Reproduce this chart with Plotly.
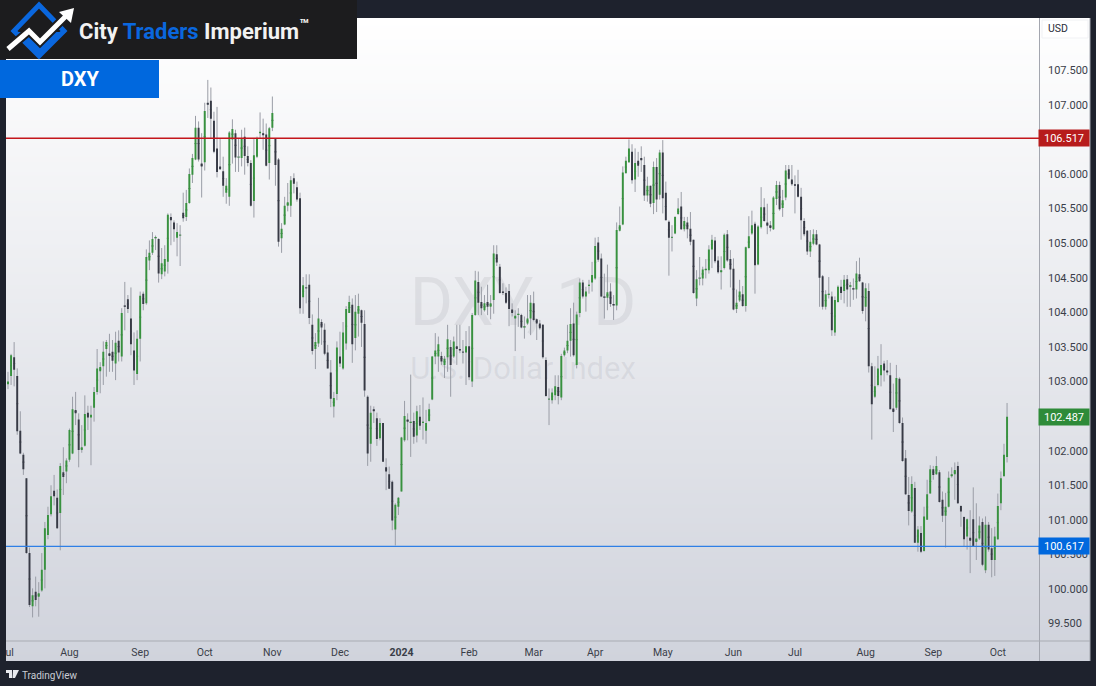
import plotly.graph_objs as go

W = 1096
H = 686

# daily DXY candles
opens = [102.96,103.08,103.35,103.08,102.29,101.94,101.60,100.52,99.75,99.96,
    99.89,99.98,100.28,100.78,101.08,101.42,101.32,101.10,101.69,101.70,
    101.87,101.96,102.59,102.45,102.01,102.07,102.55,102.48,102.62,102.85,
    103.15,103.22,103.47,103.41,103.43,103.26,103.59,103.36,104.10,104.19,
    103.91,103.45,103.11,103.62,104.27,104.13,104.75,104.86,105.07,105.06,
    104.55,104.59,104.73,105.38,105.30,105.08,105.11,105.44,105.38,105.58,
    105.99,106.21,106.67,106.15,106.17,107.03,107.06,106.77,106.37,106.11,
    106.04,105.73,105.67,106.50,106.59,106.24,106.23,106.54,106.26,106.16,
    105.61,106.25,106.59,106.59,106.57,106.16,106.67,106.51,106.21,105.07,
    105.27,105.54,105.54,105.94,105.81,105.65,104.22,104.36,104.40,103.82,
    103.47,103.55,103.86,103.75,103.42,103.13,102.64,102.82,103.36,103.19,
    103.55,103.99,104.11,103.63,103.98,104.03,103.83,102.78,102.10,102.60,
    102.47,102.18,102.40,101.76,101.66,101.55,100.86,101.19,101.41,102.15,
    102.45,102.40,102.43,102.22,102.49,102.40,102.29,102.43,102.74,103.36,
    103.36,103.37,103.24,103.35,103.50,103.36,103.51,103.47,103.43,103.42,
    103.51,103.00,103.96,104.44,104.15,104.03,104.15,104.08,104.18,104.84,
    104.66,104.30,104.28,104.31,104.04,103.91,103.96,103.96,103.78,103.84,
    103.91,104.13,103.90,103.84,103.82,103.31,102.74,102.73,102.80,102.92,
    102.77,103.38,103.45,103.59,103.84,103.24,103.99,104.43,104.23,104.38,
    104.43,104.49,105.01,104.78,104.23,104.21,104.30,104.12,104.10,105.18,
    105.27,106.01,106.17,106.32,105.92,106.19,106.23,106.13,105.69,105.83,
    105.58,106.10,105.70,106.31,105.73,105.31,105.08,105.14,105.42,105.53,
    105.20,105.30,105.21,105.05,104.20,104.49,104.49,104.61,104.61,104.91,
    105.04,104.75,104.58,104.64,105.13,104.77,104.63,104.05,104.17,104.26,
    104.09,104.93,105.14,105.28,104.69,105.23,105.52,105.30,105.26,105.20,
    105.64,105.84,105.51,105.66,106.07,105.92,105.85,105.85,105.67,105.32,
    105.18,104.88,104.99,105.13,104.98,104.52,104.08,104.25,104.23,103.71,
    104.15,104.37,104.31,104.48,104.37,104.35,104.33,104.55,104.43,104.08,
    104.31,103.22,102.78,102.95,103.09,103.26,103.16,103.09,102.61,102.62,
    103.04,102.40,101.89,101.36,101.12,101.46,100.67,100.81,100.55,101.00,
    101.38,101.73,101.66,101.69,101.29,101.06,101.19,101.63,101.66,101.78,
    101.20,101.04,100.76,100.74,101.01,100.68,100.73,100.97,100.27,100.93,
    100.59,100.42,100.72,101.24,101.63,101.91]
highs = [103.14,103.40,103.57,103.19,102.57,101.97,101.60,100.60,100.01,100.18,
    100.10,100.52,100.97,101.19,101.50,101.65,101.44,101.82,102.05,101.89,
    102.32,102.78,102.85,102.54,102.37,102.80,102.65,102.65,102.92,103.47,
    103.28,103.58,103.60,103.69,103.60,103.72,103.74,104.06,104.44,104.25,
    104.36,103.71,103.74,104.30,104.30,104.91,105.04,105.16,105.11,105.07,
    104.93,104.97,105.43,105.43,105.33,105.29,105.26,105.73,105.77,106.08,
    106.29,106.84,106.76,106.59,107.03,107.36,107.25,106.90,106.97,106.52,
    106.25,105.94,106.62,106.79,106.64,106.52,106.64,106.67,106.40,106.20,
    106.52,106.54,106.89,106.80,106.73,106.68,107.12,106.52,106.23,105.29,
    105.67,105.87,105.97,106.01,105.89,105.73,104.51,104.55,104.55,103.97,
    103.70,104.21,103.90,103.84,103.53,103.31,102.85,103.58,103.72,103.86,
    104.09,104.24,104.20,104.25,104.27,104.04,104.03,102.80,102.65,102.64,
    102.55,102.47,102.40,101.89,101.77,101.57,101.24,101.33,102.20,102.72,
    102.54,103.10,102.55,102.65,102.66,102.77,102.59,102.68,103.37,103.70,
    103.65,103.43,103.37,103.82,103.60,103.65,103.82,103.82,103.60,103.73,
    103.80,103.99,104.60,104.59,104.37,104.25,104.40,104.25,104.97,104.97,
    104.70,104.42,104.36,104.41,104.13,104.03,104.06,103.98,103.94,104.25,
    104.25,104.30,103.91,103.89,103.83,103.35,102.90,102.90,103.09,103.09,
    103.40,103.49,103.82,104.06,104.14,104.01,104.49,104.47,104.37,104.47,
    104.73,105.08,105.09,104.85,104.56,104.69,104.42,104.25,105.30,105.53,
    106.11,106.25,106.50,106.43,106.37,106.32,106.40,106.25,105.96,105.83,
    106.18,106.23,106.35,106.49,105.89,105.33,105.26,105.39,105.65,105.74,
    105.38,105.38,105.45,105.05,104.61,104.80,104.66,104.77,104.97,105.12,
    105.09,104.81,104.81,105.14,105.19,104.90,104.78,104.33,104.47,104.38,
    104.95,105.39,105.47,105.31,105.26,105.81,105.65,105.57,105.32,105.68,
    105.90,105.89,105.77,106.13,106.13,106.13,105.98,106.06,105.80,105.36,
    105.19,105.19,105.20,105.19,104.99,104.54,104.32,104.51,104.30,104.23,
    104.39,104.47,104.54,104.54,104.44,104.49,104.74,104.79,104.44,104.42,
    104.42,103.27,103.22,103.37,103.54,103.30,103.31,103.27,102.97,103.24,
    103.06,102.48,102.01,101.62,101.63,101.55,100.91,100.91,101.19,101.58,
    101.79,101.78,101.92,101.72,101.41,101.39,101.70,101.76,101.83,101.84,
    101.21,101.05,101.02,101.14,101.47,101.24,101.05,101.02,101.05,100.97,
    100.88,100.90,101.38,101.70,102.10,102.69]
lows = [102.89,102.95,102.93,102.23,101.95,101.65,100.51,99.74,99.59,99.75,
    99.60,99.96,100.01,100.72,101.05,101.21,100.87,100.56,101.36,101.53,
    101.84,101.95,102.37,101.76,101.97,102.06,102.30,101.79,102.42,102.81,
    102.83,102.95,103.07,103.14,103.14,103.02,103.29,103.29,103.74,103.99,
    103.38,102.95,103.02,103.29,104.03,104.11,104.61,104.83,104.90,104.43,
    104.48,104.52,104.56,104.97,105.02,104.81,104.67,105.31,105.32,105.57,
    105.87,106.20,106.18,105.66,106.05,106.81,106.52,106.30,105.95,106.06,
    105.67,105.57,105.54,106.15,106.03,106.03,106.11,105.99,106.11,105.53,
    105.37,106.23,106.52,106.35,106.11,105.92,106.62,105.83,104.95,104.86,
    105.26,105.46,105.38,105.72,105.60,103.98,103.98,104.13,103.83,103.39,
    103.18,103.50,103.53,103.38,103.19,102.63,102.48,102.73,103.21,103.17,
    103.46,103.99,103.27,103.45,103.65,103.50,102.78,101.78,101.84,102.40,
    102.07,102.15,101.84,101.43,101.45,100.85,100.63,101.07,101.41,102.13,
    102.15,101.91,102.10,102.12,102.30,102.16,102.10,102.42,102.73,103.25,
    103.14,103.24,103.05,103.14,102.78,103.34,103.24,103.41,103.26,102.95,
    103.02,102.92,103.95,103.96,103.96,104.01,103.96,103.90,103.98,104.67,
    104.27,104.25,104.12,103.80,103.94,103.44,103.79,103.77,103.62,103.82,
    103.67,103.87,103.60,103.75,103.33,102.78,102.37,102.68,102.73,102.67,
    102.73,103.36,103.41,103.36,103.36,103.19,103.93,104.20,104.01,104.27,
    104.30,104.47,104.73,104.22,103.91,104.03,104.08,103.89,104.03,105.17,
    105.26,106.01,106.16,105.86,105.74,105.96,106.03,105.61,105.60,105.52,
    105.42,105.45,105.63,105.43,105.33,104.53,104.88,105.13,105.41,105.19,
    105.17,105.07,104.97,104.27,104.09,104.39,104.39,104.49,104.56,104.64,
    104.71,104.56,104.33,104.62,104.73,104.36,104.03,103.99,104.15,104.08,
    104.01,104.92,105.12,104.27,104.68,105.21,105.31,105.13,105.17,105.19,
    105.55,105.47,105.38,105.62,105.92,105.83,105.43,105.66,105.05,105.10,
    104.83,104.80,104.97,104.97,104.08,104.04,104.04,104.20,103.66,103.66,
    104.14,104.18,104.13,104.08,104.08,104.18,104.20,104.44,103.98,103.87,
    103.13,102.16,102.76,102.93,102.93,103.00,103.09,102.60,102.27,102.59,
    102.39,101.84,101.36,100.92,101.10,100.67,100.54,100.52,100.54,101.00,
    101.38,101.58,101.65,101.25,100.97,100.60,101.18,101.61,101.29,101.23,
    100.90,100.61,100.57,100.23,100.61,100.42,100.71,100.33,100.23,100.54,
    100.17,100.19,100.71,101.14,101.63,101.83]
closes = [103.00,103.38,103.17,102.28,101.96,101.73,100.52,99.77,99.91,99.84,
    99.94,100.28,100.88,101.07,101.34,101.34,100.88,101.78,101.62,101.86,
    102.30,102.60,102.54,102.01,102.05,102.53,102.48,102.52,102.85,103.19,
    103.21,103.43,103.57,103.37,103.30,103.56,103.42,103.99,104.08,104.05,
    103.54,103.16,103.62,104.24,104.12,104.80,104.86,105.06,105.09,104.56,
    104.71,104.77,105.41,105.33,105.20,105.16,105.12,105.36,105.58,106.00,
    106.23,106.67,106.21,106.11,106.91,107.00,106.80,106.32,106.03,106.07,
    105.83,105.83,106.60,106.65,106.24,106.25,106.52,106.26,106.16,105.54,
    106.27,106.52,106.61,106.56,106.12,106.66,106.88,106.13,105.02,105.21,
    105.54,105.59,105.91,105.86,105.63,104.06,104.39,104.35,103.92,103.44,
    103.57,103.91,103.78,103.40,103.19,102.75,102.76,103.49,103.26,103.71,
    104.05,104.15,103.54,104.01,104.09,103.85,102.87,101.96,102.55,102.57,
    102.17,102.40,101.84,101.70,101.45,100.99,101.22,101.32,102.19,102.50,
    102.42,102.42,102.20,102.57,102.36,102.42,102.40,102.60,103.36,103.45,
    103.54,103.29,103.33,103.61,103.24,103.58,103.47,103.45,103.42,103.51,
    103.06,103.96,104.46,104.14,104.06,104.13,104.08,104.13,104.85,104.72,
    104.28,104.28,104.14,104.05,103.99,103.95,103.98,103.78,103.80,103.91,
    104.14,103.89,103.84,103.77,103.35,102.79,102.75,102.84,102.93,102.79,
    103.37,103.45,103.59,103.83,103.38,103.97,104.43,104.23,104.30,104.40,
    104.54,104.96,104.76,104.23,104.21,104.29,104.12,104.10,105.19,105.26,
    106.02,106.19,106.37,105.91,106.16,106.12,106.20,105.69,105.83,105.57,
    106.10,105.63,106.31,105.65,105.33,105.08,105.09,105.38,105.50,105.20,
    105.32,105.20,105.02,104.28,104.48,104.50,104.62,104.63,104.91,105.05,
    104.74,104.58,104.61,105.12,104.75,104.62,104.04,104.14,104.30,104.09,
    104.94,105.10,105.26,104.68,105.24,105.52,105.32,105.25,105.22,105.66,
    105.84,105.49,105.62,106.05,105.93,105.85,105.83,105.67,105.33,105.13,
    104.88,105.02,105.13,104.98,104.50,104.08,104.26,104.27,103.74,104.18,
    104.37,104.28,104.47,104.33,104.39,104.33,104.56,104.45,104.02,104.35,
    103.22,102.67,102.93,103.19,103.24,103.16,103.13,102.60,102.56,103.05,
    102.40,101.85,101.37,101.13,101.52,100.67,100.86,100.54,101.05,101.37,
    101.73,101.65,101.78,101.26,101.06,101.19,101.61,101.66,101.72,101.24,
    101.12,100.72,101.01,100.70,100.62,100.73,100.92,100.35,100.93,100.57,
    100.42,100.76,101.20,101.60,101.94,102.49]

# first label is cut by the left frame, as in the reference
month_ticks = [-0.4, 20, 43, 64, 86, 108, 128, 150, 171, 191, 213, 236, 256, 279, 301, 322]
month_labels = ["Jul", "Aug", "Sep", "Oct", "Nov", "Dec", "<b>2024</b>", "Feb", "Mar", "Apr",
                "May", "Jun", "Jul", "Aug", "Sep", "Oct"]
# 102.5 and 106.5 sit behind the price tags
price_ticks = [99.5, 100, 100.5, 101, 101.5, 102, 103, 103.5, 104, 104.5, 105, 105.5, 106, 107, 107.5]
resistance = 106.517
support = 100.617
last_price = 102.487

DARK = "#1e222d"
GREEN = "#38923f"
BEAR = "#373a45"
WICK = "#9a9da6"
BLUE = "#0a67de"
RED = "#b71c1c"
FONT = "Roboto"


def px(x):
    return x / W


def py(y):
    return 1 - y / H


def poly(points, close=True):
    d = "M" + " L".join(f"{px(a):.5f},{py(b):.5f}" for a, b in points)
    return d + (" Z" if close else "")


days = list(range(len(opens)))
fig = go.Figure()

# background gradient, sits under the candles on its own axes
fig.add_trace(go.Heatmap(x=[0, 1], y=[0, 1], z=[[0, 0], [1, 1]], zsmooth="best", showscale=False,
                         colorscale=[[0, "#d0d3dc"], [1, "#ffffff"]], hoverinfo="skip",
                         xaxis="x", yaxis="y"))
# watermark
fig.add_trace(go.Scatter(x=[0.477], y=[0.548], mode="text", text=["DXY, 1D"], hoverinfo="skip",
                         textfont=dict(family=FONT, size=66, color="rgba(120,123,134,0.13)"),
                         xaxis="x", yaxis="y"))
fig.add_trace(go.Scatter(x=[0.477], y=[0.451], mode="text", text=["U.S. Dollar Index"], hoverinfo="skip",
                         textfont=dict(family=FONT, size=31, color="rgba(120,123,134,0.13)"),
                         xaxis="x", yaxis="y"))

# wicks, with the flat body hidden inside the real one
body_mid = [(o + c) / 2 for o, c in zip(opens, closes)]
fig.add_trace(go.Candlestick(x=days, open=body_mid, high=highs, low=lows, close=body_mid,
                             increasing=dict(line=dict(color=WICK, width=1), fillcolor=WICK),
                             decreasing=dict(line=dict(color=WICK, width=1), fillcolor=WICK),
                             whiskerwidth=0, hoverinfo="skip", xaxis="x2", yaxis="y2"))
# bodies
body_high = [max(o, c) for o, c in zip(opens, closes)]
body_low = [min(o, c) for o, c in zip(opens, closes)]
fig.add_trace(go.Candlestick(x=days, open=opens, high=body_high, low=body_low, close=closes,
                             increasing=dict(line=dict(color=GREEN, width=0), fillcolor=GREEN),
                             decreasing=dict(line=dict(color=BEAR, width=0), fillcolor=BEAR),
                             whiskerwidth=0, hoverinfo="skip", xaxis="x2", yaxis="y2"))

shapes = [
    # level lines
    dict(type="line", xref="paper", yref="y2", x0=px(6), x1=px(1039), y0=resistance, y1=resistance,
         line=dict(color="#c4161c", width=1.3), layer="above"),
    dict(type="line", xref="paper", yref="y2", x0=px(6), x1=px(1039), y0=support, y1=support,
         line=dict(color="#2f7fe6", width=1.3), layer="above"),
    # frame
    dict(type="rect", xref="paper", yref="paper", x0=0, x1=px(6), y0=py(661), y1=1,
         fillcolor=DARK, line_width=0, layer="above"),
    dict(type="line", xref="paper", yref="paper", x0=px(1039.5), x1=px(1039.5), y0=py(661), y1=py(18),
         line=dict(color="#a3a6af", width=1), layer="above"),
    dict(type="line", xref="paper", yref="paper", x0=px(6), x1=px(1090), y0=py(641), y1=py(641),
         line=dict(color="#a9acb3", width=1), layer="above"),
    dict(type="line", xref="paper", yref="paper", x0=px(1090), x1=px(1090), y0=py(661), y1=py(18),
         line=dict(color="#a3a6af", width=1), layer="above"),
    # header
    dict(type="rect", xref="paper", yref="paper", x0=0, x1=px(357), y0=py(59), y1=1,
         fillcolor="#1c1c1e", line_width=0, layer="above"),
    dict(type="rect", xref="paper", yref="paper", x0=0, x1=px(159), y0=py(98), y1=py(60),
         fillcolor="#0068de", line_width=0, layer="above"),
    # logo diamond
    dict(type="path", xref="paper", yref="paper", path=poly([(39, 5), (64, 31), (39, 56), (14, 31)]),
         line=dict(color=BLUE, width=5), layer="above"),
    dict(type="path", xref="paper", yref="paper", path=poly([(12, 32), (28, 32), (39, 44), (50, 32), (66, 32), (39, 54)]),
         fillcolor=BLUE, line_width=0, layer="above"),
    # logo arrow
    dict(type="path", xref="paper", yref="paper", path=poly([(8, 49), (29, 31), (40, 42), (67, 15)], close=False),
         line=dict(color="#1c1c1e", width=9), layer="above"),
    dict(type="path", xref="paper", yref="paper", path=poly([(8, 49), (29, 31), (40, 42), (67, 15)], close=False),
         line=dict(color="#ffffff", width=5), layer="above"),
    dict(type="path", xref="paper", yref="paper", path=poly([(74, 8), (71, 23), (59, 12)]),
         fillcolor="#ffffff", line_width=0, layer="above"),
    # tradingview logo
    dict(type="path", xref="paper", yref="paper",
         path=poly([(6, 670), (12, 670), (12, 678), (9, 678), (9, 673), (6, 673)]),
         fillcolor="#e8e9ee", line_width=0, layer="above"),
    dict(type="path", xref="paper", yref="paper", path=poly([(13, 670), (19, 670), (15, 678), (12.5, 678)]),
         fillcolor="#e8e9ee", line_width=0, layer="above"),
    # USD box
    dict(type="rect", xref="paper", yref="paper", x0=px(1042), x1=px(1088), y0=py(38), y1=py(20),
         fillcolor="#ffffff", line=dict(color="#f0f1f4", width=1), layer="above"),
]

annotations = [
    dict(x=px(77), y=py(30), xref="paper", yref="paper", xanchor="left", yanchor="middle", showarrow=False,
         text="<b>City <span style='color:#0a67de'>Traders</span> Imperium<sup>™</sup></b>",
         font=dict(family=FONT, size=22, color="#f2f2f2")),
    dict(x=px(80), y=py(79), xref="paper", yref="paper", xanchor="center", yanchor="middle", showarrow=False,
         text="<b>DXY</b>", font=dict(family=FONT, size=20, color="#ffffff")),
    dict(x=px(20), y=py(675), xref="paper", yref="paper", xanchor="left", yanchor="middle", showarrow=False,
         text="TradingView", font=dict(family=FONT, size=10, color="#c9ccd4")),
    dict(x=px(1058), y=py(29), xref="paper", yref="paper", xanchor="center", yanchor="middle", showarrow=False,
         text="USD", font=dict(family=FONT, size=10.5, color="#2a2e39")),
]
for level, colour in [(resistance, RED), (support, "#0068de"), (last_price, "#2e8b39")]:
    annotations.append(dict(x=px(1064), y=level, xref="paper", yref="y2", xanchor="center", yanchor="middle",
                            showarrow=False, text=f"{level:.3f}", width=48, height=14, bgcolor=colour,
                            font=dict(family=FONT, size=11, color="#ffffff")))

fig.update_layout(
    width=W, height=H, autosize=False,
    margin=dict(l=0, r=0, t=0, b=0),
    paper_bgcolor=DARK, plot_bgcolor="rgba(0,0,0,0)",
    showlegend=False,
    dragmode=False,
    boxmode="overlay",
    boxgap=0.1,
    shapes=shapes,
    annotations=annotations,
    xaxis=dict(domain=[px(6), px(1090)], range=[0, 1], visible=False, fixedrange=True),
    yaxis=dict(domain=[py(661), py(18)], range=[0, 1], visible=False, fixedrange=True),
    xaxis2=dict(domain=[0, px(1039)], range=[-2.60, 335.39], type="linear", anchor="y2",
                rangeslider=dict(visible=False), showgrid=False, zeroline=False, showline=False,
                tickmode="array", tickvals=month_ticks, ticktext=month_labels, ticks="",
                ticklabelstandoff=3, ticklabeloverflow="allow",
                tickfont=dict(family=FONT, size=10.5, color="#3a3e49"), fixedrange=True),
    yaxis2=dict(domain=[py(641), py(18)], range=[99.249, 108.255], anchor="x2", side="right",
                showgrid=False, zeroline=False, showline=False, tickmode="array", tickvals=price_ticks,
                ticktext=[f"{v:.3f}" for v in price_ticks], ticks="", ticklabelstandoff=8,
                tickfont=dict(family=FONT, size=11, color="#3a3e49"), fixedrange=True),
)

fig.write_html("out.html", config={"displayModeBar": False},
               post_script="document.body.style.margin='0';document.body.style.overflow='hidden';")
